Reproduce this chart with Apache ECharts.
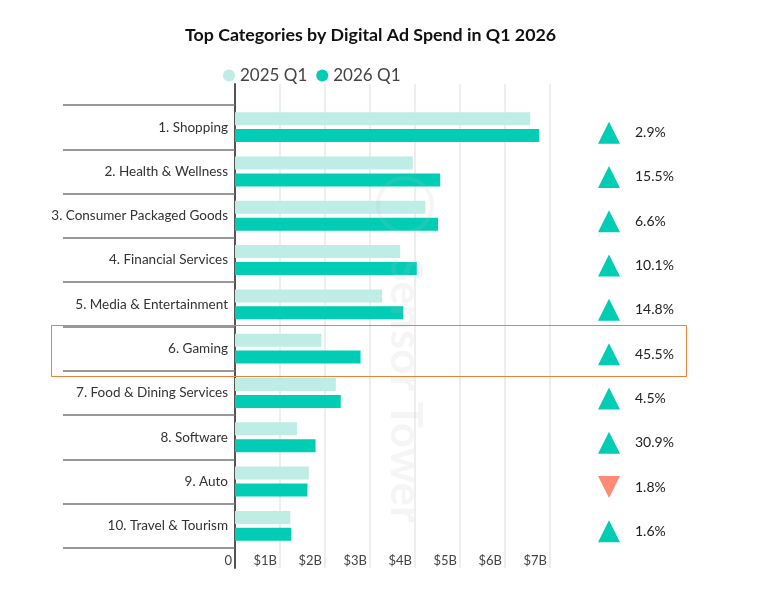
<!DOCTYPE html>
<html>
<head>
<meta charset="utf-8">
<script src="https://cdn.jsdelivr.net/npm/echarts@6/dist/echarts.min.js"></script>
<style>
  html, body { margin: 0; padding: 0; background: #fff; }
  #chart { width: 770px; height: 589px; }
</style>
</head>
<body>
<div id="chart"></div>
<script>
const categories = [
  "1. Shopping",
  "2. Health & Wellness",
  "3. Consumer Packaged Goods",
  "4. Financial Services",
  "5. Media & Entertainment",
  "6. Gaming",
  "7. Food & Dining Services",
  "8. Software",
  "9. Auto",
  "10. Travel & Tourism",
];
// ad spend, billions USD
const spend2025 = [6.56, 3.95, 4.23, 3.67, 3.27, 1.92, 2.24, 1.38, 1.64, 1.23];
const spend2026 = [6.76, 4.56, 4.51, 4.04, 3.74, 2.79, 2.35, 1.79, 1.61, 1.25];
// year over year change, %
const growth = [2.9, 15.5, 6.6, 10.1, 14.8, 45.5, 4.5, 30.9, -1.8, 1.6];
const tickLabels = ["0", "$1B", "$2B", "$3B", "$4B", "$5B", "$6B", "$7B"];

const font = "Lato";
const chart = echarts.init(document.getElementById("chart"));

const option = {
  textStyle: { fontFamily: font },
  title: {
    text: "Top Categories by Digital Ad Spend in Q1 2026",
    left: 180,
    top: 21,
    textStyle: { fontSize: 17.8, fontWeight: "bold", color: "#111", fontFamily: font },
  },
  legend: {
    data: ["2025 Q1", "2026 Q1"],
    left: 218,
    top: 62,
    icon: "circle",
    itemWidth: 12,
    itemHeight: 12,
    itemGap: 9,
    textStyle: { fontSize: 17, color: "#444", fontFamily: font },
  },
  grid: [
    { left: 235, right: 220, top: 105, bottom: 41 }, // bars
    { left: 235, right: 220, top: 84, bottom: 21 }, // frame: grid lines + axis line
    { left: 599, width: 20, top: 105, bottom: 41 }, // change markers
  ],
  xAxis: [
    {
      gridIndex: 0,
      type: "value",
      min: 0,
      max: 7,
      interval: 1,
      splitLine: { show: false },
      axisLine: { show: false },
      axisTick: { show: false },
      axisLabel: {
        formatter: (v) => tickLabels[v],
        align: "right",
        padding: [0, 3, 0, 0],
        margin: 6,
        fontSize: 13,
        color: "#444",
      },
    },
    {
      gridIndex: 1,
      type: "value",
      min: 0,
      max: 7,
      interval: 1,
      splitLine: { show: true, lineStyle: { color: "#e8e8e8", width: 1.5 } },
      axisLine: { show: false },
      axisTick: { show: false },
      axisLabel: { show: false },
    },
    { gridIndex: 2, type: "value", min: 0, max: 1, show: false },
  ],
  yAxis: [
    {
      gridIndex: 0,
      type: "category",
      inverse: true,
      data: categories,
      axisLine: { show: false },
      axisTick: { show: true, length: 172, lineStyle: { color: "#777", width: 1.5 } },
      axisLabel: { margin: 7, fontSize: 13.5, color: "#333" },
    },
    {
      gridIndex: 1,
      type: "value",
      min: 0,
      max: 1,
      axisLine: { show: true, lineStyle: { color: "#555", width: 2 } },
      axisTick: { show: false },
      axisLabel: { show: false },
      splitLine: { show: false },
    },
    { gridIndex: 2, type: "category", inverse: true, data: categories, show: false },
  ],
  series: [
    {
      name: "2025 Q1",
      type: "bar",
      xAxisIndex: 0,
      yAxisIndex: 0,
      data: spend2025,
      barWidth: 13,
      barGap: "30%",
      itemStyle: { color: "#bdede4" },
    },
    {
      name: "2026 Q1",
      type: "bar",
      xAxisIndex: 0,
      yAxisIndex: 0,
      data: spend2026,
      barWidth: 13,
      itemStyle: { color: "#00cdb4" },
    },
    {
      name: "change",
      type: "scatter",
      xAxisIndex: 2,
      yAxisIndex: 2,
      symbol: "triangle",
      symbolSize: [22, 22],
      symbolOffset: [0, 5.5],
      data: growth.map((g, i) => ({
        value: [0.5, categories[i]],
        symbolRotate: g < 0 ? 180 : 0,
        itemStyle: { color: g < 0 ? "#ff8a75" : "#00cdb4", opacity: 1 },
      })),
      label: {
        show: true,
        position: "right",
        distance: 15,
        fontSize: 14,
        color: "#222",
        fontFamily: font,
        formatter: (p) => Math.abs(growth[p.dataIndex]).toFixed(1) + "%",
      },
    },
  ],
  graphic: [
    {
      type: "rect",
      shape: { x: 51.5, y: 325.5, width: 635, height: 51 },
      style: { fill: "none", stroke: "#e8833a", lineWidth: 1 },
      z: 100,
    },
    {
      type: "circle",
      shape: { cx: 405, cy: 205, r: 27 },
      style: { fill: "none", stroke: "rgba(190,190,190,0.15)", lineWidth: 4 },
      z: 90,
    },
    {
      type: "text",
      x: 405,
      y: 390,
      rotation: -Math.PI / 2,
      style: {
        text: "Sensor Tower",
        font: "bold 44px Lato",
        fill: "rgba(190,190,190,0.15)",
        align: "center",
        verticalAlign: "middle",
      },
      z: 90,
    },
  ],
};

chart.setOption(option);
</script>
</body>
</html>
